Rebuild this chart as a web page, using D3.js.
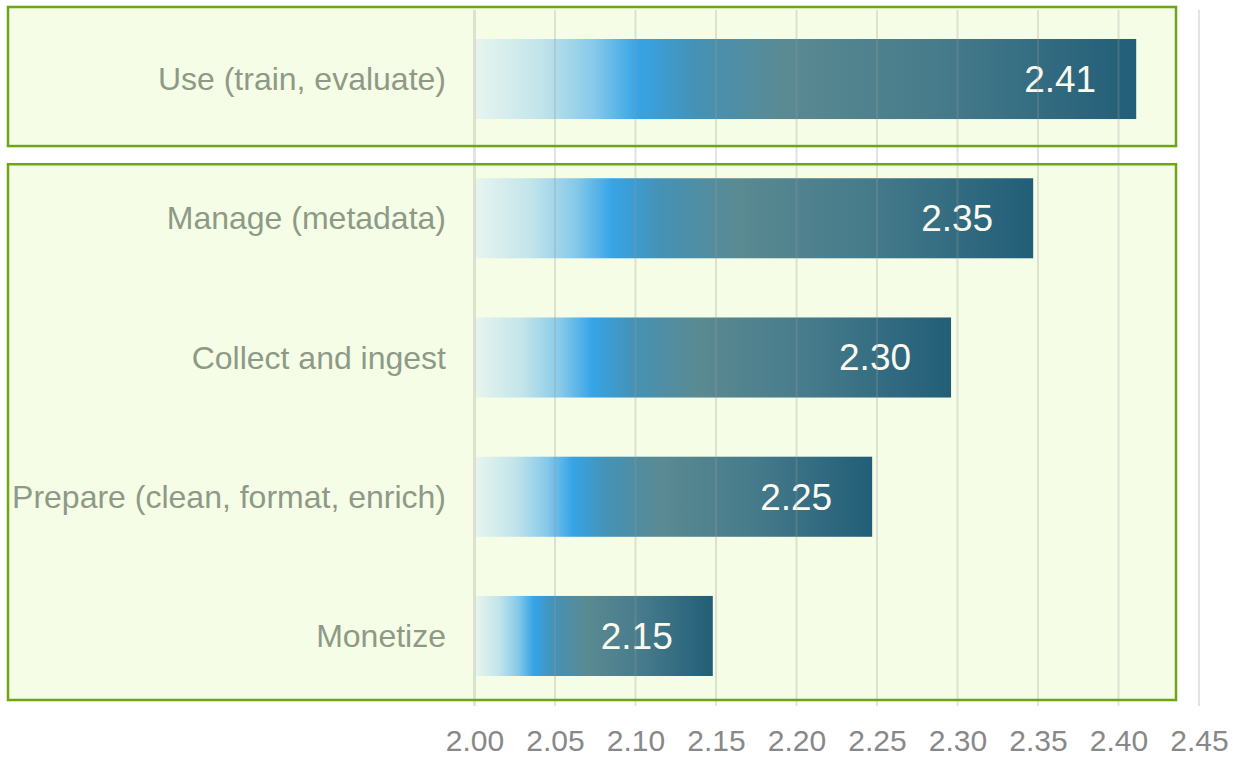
<!DOCTYPE html>
<html>
<head>
<meta charset="utf-8">
<script src="https://cdn.jsdelivr.net/npm/d3@7"></script>
<style>
  body { margin: 0; background: #fff; }
  svg { display: block; font-family: "Liberation Sans", Arial, sans-serif; }
</style>
</head>
<body>
<div id="chart"></div>
<script>
// data
const categories = ['Use (train, evaluate)', 'Manage (metadata)', 'Collect and ingest', 'Prepare (clean, format, enrich)', 'Monetize'];
const values = [2.411, 2.347, 2.296, 2.247, 2.148];
const tickValues = [2.00, 2.05, 2.10, 2.15, 2.20, 2.25, 2.30, 2.35, 2.40, 2.45];
const groups = [['Use (train, evaluate)'], ['Manage (metadata)', 'Collect and ingest', 'Prepare (clean, format, enrich)', 'Monetize']];

const width = 1233, height = 758;

const svg = d3.select('#chart').append('svg')
    .attr('width', width)
    .attr('height', height);

const x = d3.scaleLinear()
    .domain([2.0, 2.45])
    .range([474.5, 1199]);

const y = d3.scaleBand()
    .domain(categories)
    .range([9.4, 705.6])
    .paddingInner(0.425)
    .paddingOuter(0.2125);

// gradient for bars
const defs = svg.append('defs');
const grad = defs.append('linearGradient').attr('id', 'barGrad');
[[0, '#e7f5ef'], [0.1, '#c2e4ea'], [0.18, '#86c9ea'], [0.245, '#36a4e6'],
 [0.33, '#4592b6'], [0.47, '#5a8a92'], [0.7, '#467b8b'], [1, '#225e78']]
    .forEach(s => grad.append('stop').attr('offset', s[0]).attr('stop-color', s[1]));

// highlight boxes (padding above / below the bars of each group)
const boxPad = [[32, 27], [14, 24]];
const boxes = groups.map((g, i) => ({
    top: y(g[0]) - boxPad[i][0],
    bottom: y(g[g.length - 1]) + y.bandwidth() + boxPad[i][1]
}));

svg.selectAll('.box-bg')
    .data(boxes)
    .enter()
    .append('rect')
    .attr('class', 'box-bg')
    .attr('x', 8)
    .attr('y', d => d.top)
    .attr('width', 1168)
    .attr('height', d => d.bottom - d.top)
    .attr('fill', '#f5fde7');

// bars
const bars = svg.selectAll('.bar')
    .data(categories)
    .enter()
    .append('g')
    .attr('class', 'bar');

bars.append('rect')
    .attr('x', x(2.0) + 1)
    .attr('y', d => y(d))
    .attr('width', (d, i) => x(values[i]) - x(2.0) - 1)
    .attr('height', y.bandwidth())
    .attr('fill', 'url(#barGrad)');

// gridlines (drawn over the bars, faint)
svg.append('g')
    .selectAll('line')
    .data(tickValues)
    .enter()
    .append('line')
    .attr('x1', d => x(d))
    .attr('x2', d => x(d))
    .attr('y1', 10)
    .attr('y2', 706)
    .attr('stroke', '#9a9a9a')
    .attr('stroke-opacity', 0.28)
    .attr('stroke-width', (d, i) => i === 0 ? 3 : 2);

// box borders
svg.selectAll('.box-border')
    .data(boxes)
    .enter()
    .append('rect')
    .attr('class', 'box-border')
    .attr('x', 8)
    .attr('y', d => d.top)
    .attr('width', 1168)
    .attr('height', d => d.bottom - d.top)
    .attr('fill', 'none')
    .attr('stroke', '#6ea512')
    .attr('stroke-width', 2.5);

// value labels
bars.append('text')
    .attr('x', (d, i) => x(values[i]) - 40)
    .attr('y', d => y(d) + y.bandwidth() / 2)
    .attr('dy', '.35em')
    .attr('text-anchor', 'end')
    .attr('fill', '#fafaee')
    .attr('font-size', 37)
    .text((d, i) => d3.format('.2f')(values[i]));

// category labels
svg.append('g')
    .selectAll('text')
    .data(categories)
    .enter()
    .append('text')
    .attr('x', 446)
    .attr('y', d => y(d) + y.bandwidth() / 2)
    .attr('dy', '.35em')
    .attr('text-anchor', 'end')
    .attr('fill', '#8e9a86')
    .attr('font-size', 32)
    .text(d => d);

// x axis
const xAxis = svg.append('g')
    .attr('transform', 'translate(0, 705.6)')
    .call(d3.axisBottom(x)
        .tickValues(tickValues)
        .tickFormat(d3.format('.2f'))
        .tickSize(0)
        .tickPadding(24));
xAxis.select('.domain').remove();
xAxis.selectAll('text')
    .attr('fill', '#888888')
    .attr('font-size', 30)
    .attr('font-family', '"Liberation Sans", Arial, sans-serif');
</script>
</body>
</html>
